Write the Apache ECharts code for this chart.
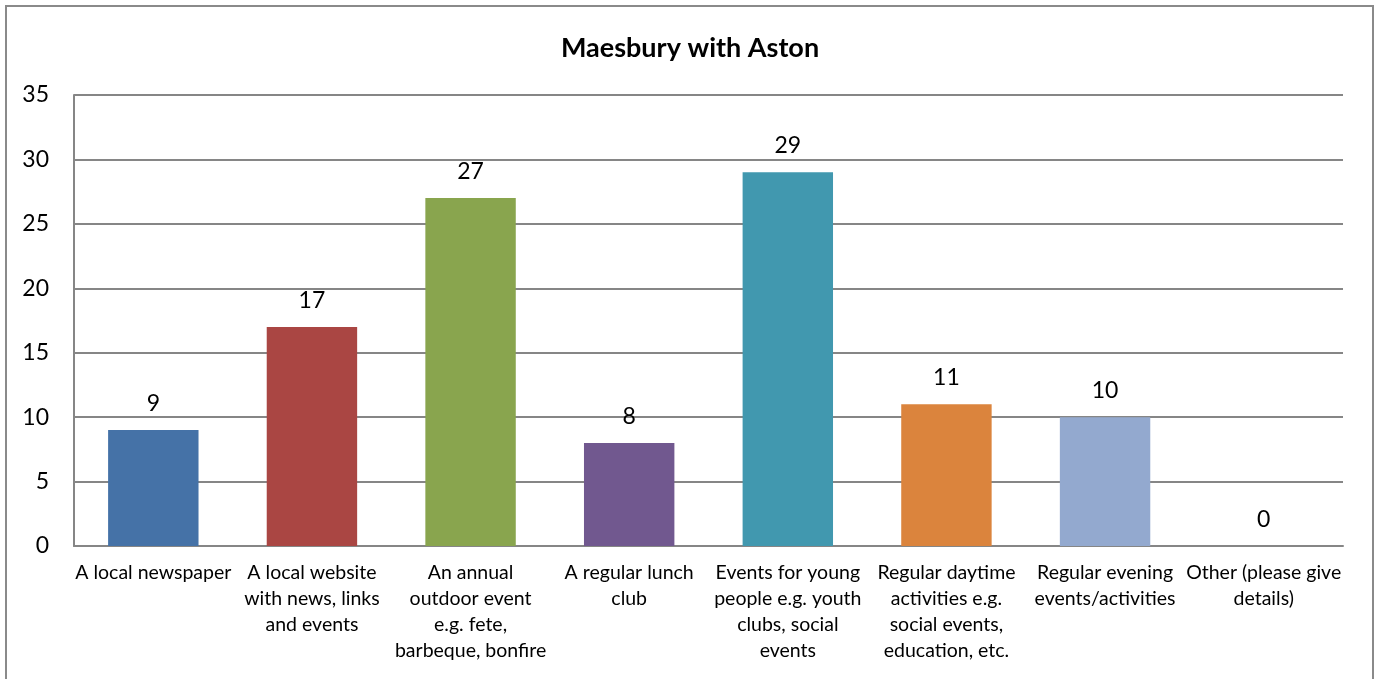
<!DOCTYPE html>
<html>
<head>
<meta charset="utf-8">
<script src="https://cdn.jsdelivr.net/npm/echarts@6/dist/echarts.min.js"></script>
<style>
  html, body { margin: 0; padding: 0; background: #fff; }
  #frame {
    position: absolute; left: 5px; top: 5px; width: 1369px; height: 700px;
    border: 2px solid #8a8a8a; box-sizing: border-box;
  }
  #chart { position: absolute; left: 0; top: 0; width: 1380px; height: 679px; }
</style>
</head>
<body>
<div id="frame"></div>
<div id="chart"></div>
<script>
// Maesbury with Aston – survey responses
const categories = [
  'A local newspaper',
  'A local website\nwith news, links\nand events',
  'An annual\noutdoor event\ne.g. fete,\nbarbeque, bonfire',
  'A regular lunch\nclub',
  'Events for young\npeople e.g. youth\nclubs, social\nevents',
  'Regular daytime\nactivities e.g.\nsocial events,\neducation, etc.',
  'Regular evening\nevents/activities',
  'Other (please give\ndetails)'
]
const values = [9, 17, 27, 8, 29, 11, 10, 0]
const barColors = ['#4572A7', '#AA4643', '#89A54E', '#71588F', '#4198AF', '#DB843D', '#93A9CF', '#B9CDE5']

const FONT = 'Lato, "Open Sans", sans-serif'

const chart = echarts.init(document.getElementById('chart'))

chart.setOption({
  animation: false,
  title: {
    text: 'Maesbury with Aston',
    left: 'center',
    top: 30,
    textStyle: { fontFamily: FONT, fontSize: 27, fontWeight: 'bold', color: '#000' }
  },
  grid: { left: 74, right: 37, top: 95, bottom: 133 },
  xAxis: {
    type: 'category',
    data: categories,
    axisLine: { lineStyle: { color: '#868686', width: 2 } },
    axisTick: { show: false },
    axisLabel: {
      interval: 0,
      margin: 14,
      fontFamily: FONT,
      fontSize: 19.5,
      lineHeight: 26,
      color: '#000'
    }
  },
  yAxis: {
    type: 'value',
    min: 0,
    max: 35,
    interval: 5,
    axisLine: { show: true, lineStyle: { color: '#868686', width: 2 } },
    axisTick: { show: false },
    splitLine: { lineStyle: { color: '#868686', width: 2 } },
    axisLabel: { fontFamily: FONT, fontSize: 23, color: '#000', margin: 25 }
  },
  series: [{
    type: 'bar',
    data: values.map((v, i) => ({ value: v, itemStyle: { color: barColors[i] } })),
    barWidth: '57%',
    label: {
      show: true,
      position: 'top',
      distance: 15,
      fontFamily: FONT,
      fontSize: 23,
      color: '#000'
    }
  }]
})
</script>
</body>
</html>
